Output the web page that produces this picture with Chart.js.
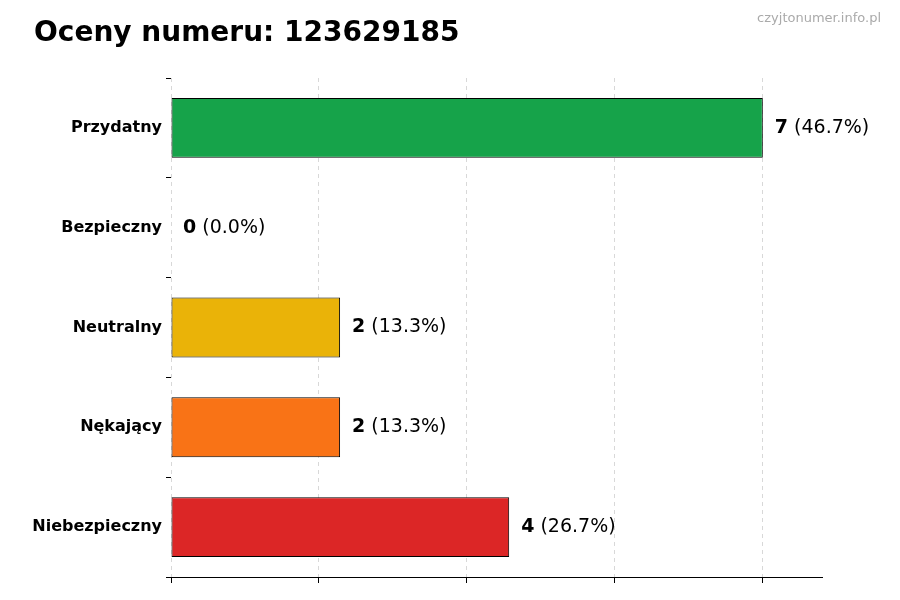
<!DOCTYPE html>
<html><head><meta charset="utf-8">
<script src="https://cdn.jsdelivr.net/npm/chart.js@4/dist/chart.umd.min.js"></script>
<style>body{margin:0;background:#fff}</style></head>
<body><canvas id="c" width="900" height="600"></canvas>
<script>
const categories = ["Przydatny","Bezpieczny","Neutralny","Nękający","Niebezpieczny"];
const counts = [7,0,2,2,4];
const percents = ["46.7%","0.0%","13.3%","13.3%","26.7%"];
const colors = ["#16a34a","#16a34a","#eab308","#f97316","#dc2626"];
const xTicks = [0,1.75,3.5,5.25,7];
const titleText = "Oceny numeru: 123629185";
const watermark = "czyjtonumer.info.pl";

const deco = {
  id:"deco",
  afterDatasetsDraw(chart){
    const ctx=chart.ctx, meta=chart.getDatasetMeta(0);
    ctx.save();
    ctx.textBaseline="middle";
    meta.data.forEach((b,i)=>{
      let x=b.x+12, y=b.y;
      ctx.font="bold 19px 'DejaVu Sans'"; ctx.fillStyle="#000"; ctx.textAlign="left";
      const s=String(counts[i]); ctx.fillText(s,x,y);
      x+=ctx.measureText(s).width;
      ctx.font="19px 'DejaVu Sans'"; ctx.fillText(" ("+percents[i]+")",x,y);
    });
    ctx.font="bold 28px 'DejaVu Sans'"; ctx.textBaseline="alphabetic"; ctx.fillText(titleText,34,41);
    ctx.font="13px 'DejaVu Sans'"; ctx.fillStyle="#aaa"; ctx.textAlign="right"; ctx.fillText(watermark,881,22);
    ctx.restore();
  }
};

new Chart(document.getElementById("c"),{
  type:"bar",
  data:{labels:categories,datasets:[{data:counts,backgroundColor:colors,borderColor:"#000",borderWidth:1,borderSkipped:false,barPercentage:0.6,categoryPercentage:1}]},
  options:{
    indexAxis:"y",responsive:false,animation:false,devicePixelRatio:1,
    layout:{padding:{top:78,right:78,left:0,bottom:0}},
    plugins:{legend:{display:false},tooltip:{enabled:false}},
    scales:{
      x:{min:0,max:7.7,
        afterBuildTicks(s){s.ticks=xTicks.map(v=>({value:v}));},
        afterFit(s){s.height=23;},
        ticks:{display:false},
        grid:{color:"#d8d8d8",tickColor:"#000",tickLength:6,drawTicks:true},
        border:{color:"#000",dash:[4,4],display:true}
      },
      y:{afterFit(s){s.width=171;},
        ticks:{color:"#000",font:{family:"DejaVu Sans",size:16,weight:"bold"},padding:4},
        grid:{display:true,drawOnChartArea:false,tickColor:"#000",tickLength:5},
        border:{display:false}
      }
    }
  },
  plugins:[deco]
});
</script></body></html>
